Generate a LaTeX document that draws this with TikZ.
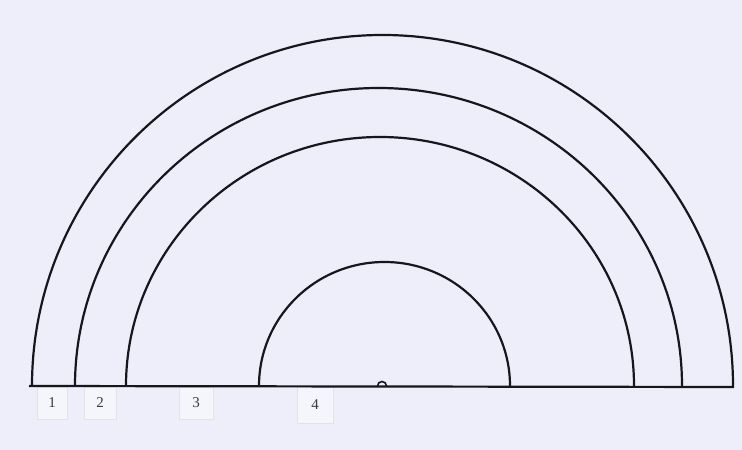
\documentclass[tikz,border=0pt]{standalone}
\usepackage{fontspec}
\setmainfont{Liberation Serif}
\usetikzlibrary{positioning}
\definecolor{paper}{RGB}{238,238,250}
\definecolor{ink}{RGB}{22,22,28}
\definecolor{tag}{RGB}{245,245,252}

\begin{document}
\begin{tikzpicture}[x=1pt, y=1pt, line width=2.2pt, draw=ink,
    labelbox/.style={draw=gray!22, line width=0.6pt, fill=tag, minimum width=30pt,
        minimum height=32pt, inner sep=0pt, text=ink!85, font=\fontsize{15}{15}\selectfont}]

    % --- Paper ---
    \fill[paper] (0,0) rectangle (742,450);
    \useasboundingbox (0,0) rectangle (742,450);

    % --- Label tags under the base line ---
    \node[labelbox] (lab1) at (52,47) {1};
    \node[labelbox, minimum width=32pt] (lab2) at (100,47) {2};
    \node[labelbox, minimum width=34pt] (lab3) at (196,47) {3};
    \node[labelbox, minimum width=36pt, minimum height=36pt] (lab4) at (315,45) {4};

    % --- Base line ---
    \coordinate (baseL) at (29,64);
    \coordinate (baseR) at (734,63);
    \draw (baseL) -- (baseR);

    % --- Arcs, drawn left foot to right foot ---
    % Outer arc
    \draw (32,64) arc[start angle=180, end angle=0, x radius=350.5, y radius=351];
    % Second arc
    \draw (75,64) arc[start angle=180, end angle=0, x radius=303.5, y radius=298];
    % Third arc
    \draw (126,64) arc[start angle=180, end angle=0, x radius=254, y radius=249];
    % Inner arc
    \draw (259,64) arc[start angle=180, end angle=0, x radius=125.5, y radius=124];

    % --- Small mark at the centre ---
    \draw[line width=1.6pt] (377.5,64) arc[start angle=180, end angle=0, radius=4.5];

\end{tikzpicture}
\end{document}
